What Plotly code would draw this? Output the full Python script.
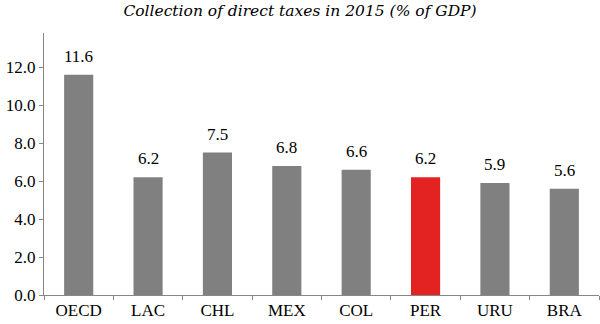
import plotly.graph_objects as go

countries = ["OECD", "LAC", "CHL", "MEX", "COL", "PER", "URU", "BRA"]
direct_taxes = [11.6, 6.2, 7.5, 6.8, 6.6, 6.2, 5.9, 5.6]
highlight = "PER"

bar_colors = ["#E32322" if c == highlight else "#808080" for c in countries]
serif = "'Times New Roman', 'Liberation Serif', Tinos, serif"

fig = go.Figure(
    go.Bar(
        x=countries,
        y=direct_taxes,
        marker=dict(color=bar_colors, line=dict(width=0)),
        width=0.42,
        hoverinfo="x+y",
    )
)

# value labels above each bar
for c, v in zip(countries, direct_taxes):
    fig.add_annotation(
        x=c,
        y=v,
        text=f"{v:.1f}",
        showarrow=False,
        yanchor="bottom",
        yshift=7,
        font=dict(family=serif, size=17, color="#000000"),
    )

fig.update_layout(
    width=600,
    height=324,
    margin=dict(l=44, r=1, t=33, b=29),
    paper_bgcolor="white",
    plot_bgcolor="white",
    showlegend=False,
    title=dict(
        text="<i>Collection of direct taxes in 2015 (% of GDP)</i>",
        x=0.5,
        xanchor="center",
        y=0.968,
        yanchor="middle",
        font=dict(family="DejaVu Serif", size=15.5, color="#000000"),
    ),
    xaxis=dict(
        showline=True,
        linecolor="#868686",
        linewidth=1,
        ticks="outside",
        tickson="boundaries",
        ticklen=4,
        tickcolor="#868686",
        tickfont=dict(family=serif, size=17, color="#000000"),
        showgrid=False,
    ),
    yaxis=dict(
        range=[0, 13.8],
        tickvals=[0, 2, 4, 6, 8, 10, 12],
        tickformat=".1f",
        showline=True,
        linecolor="#868686",
        linewidth=1,
        ticks="outside",
        ticklen=4,
        tickcolor="#868686",
        tickfont=dict(family=serif, size=17, color="#000000"),
        showgrid=False,
        zeroline=False,
    ),
)

fig.write_html("out.html")
